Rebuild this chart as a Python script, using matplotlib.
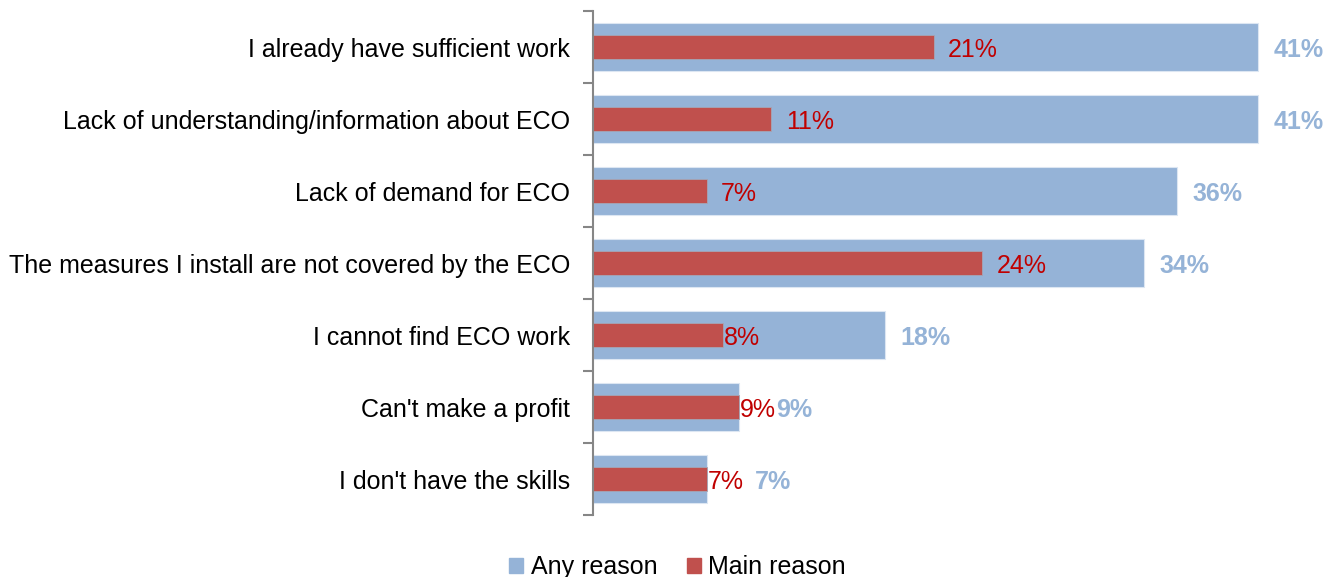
import matplotlib.pyplot as plt
from matplotlib.patches import Patch

plt.rcParams['font.family'] = ['Liberation Sans', 'DejaVu Sans']

categories = [
    "I already have sufficient work",
    "Lack of understanding/information about ECO",
    "Lack of demand for ECO",
    "The measures I install are not covered by the ECO",
    "I cannot find ECO work",
    "Can't make a profit",
    "I don't have the skills",
]
any_reason = [41, 41, 36, 34, 18, 9, 7]
main_reason = [21, 11, 7, 24, 8, 9, 7]

# label offsets in data units (Excel nudges some labels to avoid overlaps)
main_off = [0.9, 0.9, 0.9, 0.9, 0.05, 0.05, 0.05]
any_off = [0.95, 0.95, 0.95, 0.95, 0.95, 2.3, 2.95]

BLUE = "#95B3D7"
RED = "#C0504D"
RED_TXT = "#C00000"

fig = plt.figure(figsize=(13.34, 5.77), dpi=100)
ax = fig.add_axes([593 / 1334, 1 - 515 / 577, 730 / 1334, 504 / 577])

y = list(range(len(categories)))
ax.barh(y, any_reason, height=0.667, color=BLUE, edgecolor="#DCE6F2", linewidth=0.8)
ax.barh(y, main_reason, height=0.333, color=RED, edgecolor="#A5A5B5", linewidth=0.6)

for i in y:
    ax.text(main_reason[i] + main_off[i], i, f"{main_reason[i]}%", color=RED_TXT,
            fontsize=18, va="center_baseline", ha="left")
    ax.text(any_reason[i] + any_off[i], i, f"{any_reason[i]}%", color=BLUE,
            fontsize=18, fontweight="bold", va="center_baseline", ha="left")

ax.set_xlim(0, 730 / (665 / 41))
ax.set_ylim(len(categories) - 0.5, -0.5)
ax.set_yticks(y)
ax.set_yticklabels(categories, fontsize=18)
ax.tick_params(axis="y", which="major", length=0, pad=16.5)
ax.set_yticks([i - 0.5 for i in range(len(categories) + 1)], minor=True)
ax.tick_params(axis="y", which="minor", length=7, width=1.5, color="#868686")
ax.set_xticks([])

for side in ["top", "right", "bottom"]:
    ax.spines[side].set_visible(False)
ax.spines["left"].set_color("#868686")
ax.spines["left"].set_linewidth(1.5)

handles = [Patch(color=BLUE, label="Any reason"), Patch(color=RED, label="Main reason")]
fig.legend(handles=handles, loc="center", bbox_to_anchor=(0.508, 0.017), ncol=2,
           frameon=False, fontsize=18, handlelength=0.55, handleheight=0.55,
           handletextpad=0.3, columnspacing=1.2)

fig.savefig("out.png", dpi=100)
